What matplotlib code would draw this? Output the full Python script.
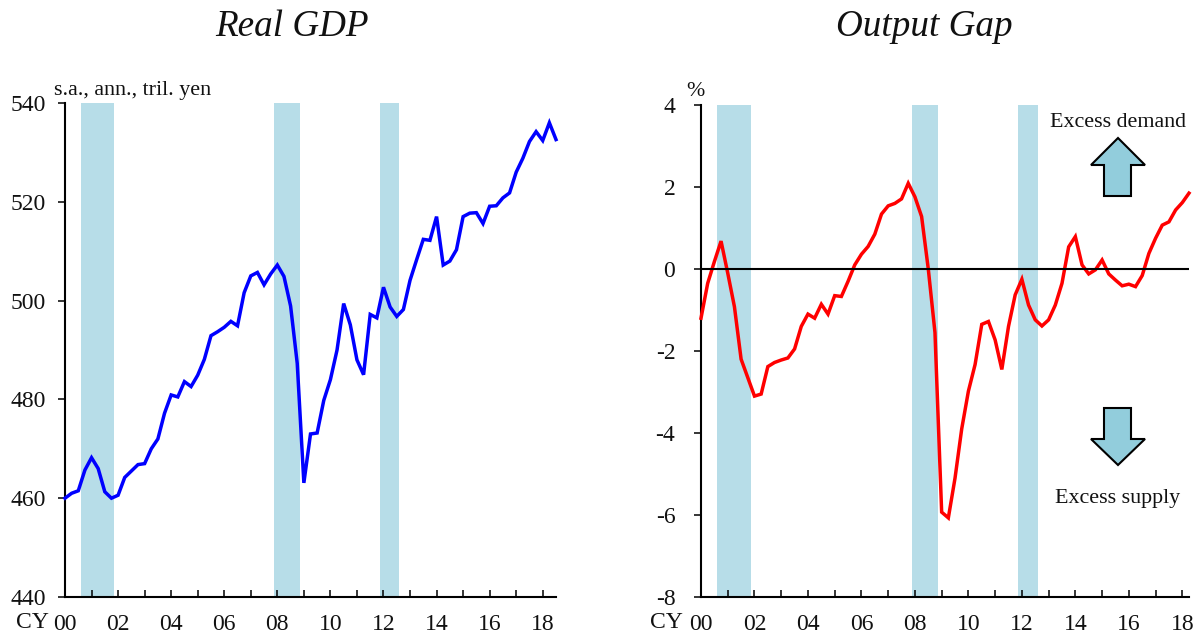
import matplotlib
matplotlib.use('Agg')
import matplotlib.pyplot as plt
from matplotlib.patches import Polygon
import numpy as np

plt.rcParams['font.family'] = ['Liberation Serif', 'DejaVu Serif']

# quarterly, starting 2000 Q1
real_gdp = [460.0, 461.0, 461.5, 465.7, 468.2, 466.0, 461.3, 460.0, 460.6, 464.2,
            465.5, 466.8, 467.0, 470.0, 472.0, 477.2, 480.9, 480.5, 483.6, 482.6,
            484.9, 488.1, 492.9, 493.7, 494.6, 495.8, 494.9, 501.6, 505.0, 505.7,
            503.2, 505.4, 507.2, 504.9, 498.9, 487.3, 463.1, 473.0, 473.2, 479.8,
            484.0, 490.0, 499.4, 495.1, 488.0, 485.0, 497.2, 496.5, 502.7, 498.7,
            496.8, 498.2, 504.1, 508.3, 512.4, 512.2, 517.0, 507.2, 508.0, 510.3,
            517.0, 517.7, 517.8, 515.6, 519.1, 519.2, 520.8, 521.8, 526.0, 528.8,
            532.2, 534.2, 532.4, 536.0, 532.6]
output_gap = [-1.2, -0.35, 0.18, 0.68, -0.1, -0.92, -2.2, -2.65, -3.1, -3.05,
              -2.38, -2.28, -2.22, -2.17, -1.95, -1.4, -1.1, -1.2, -0.86, -1.1,
              -0.65, -0.67, -0.3, 0.1, 0.36, 0.55, 0.85, 1.34, 1.54, 1.6,
              1.71, 2.09, 1.76, 1.28, 0.0, -1.55, -5.93, -6.07, -5.1, -3.9,
              -2.98, -2.33, -1.35, -1.28, -1.73, -2.45, -1.4, -0.63, -0.25, -0.88,
              -1.24, -1.39, -1.24, -0.88, -0.35, 0.54, 0.79, 0.1, -0.12, -0.02,
              0.22, -0.12, -0.27, -0.41, -0.37, -0.43, -0.16, 0.38, 0.75, 1.07,
              1.15, 1.44, 1.62, 1.85]

# recession bands, in quarters from 2000 Q1
recessions = [(2.4, 7.45), (31.5, 35.45), (47.4, 50.4)]

year_ticks = np.arange(0, 73, 4)
year_labels = ['00', '', '02', '', '04', '', '06', '', '08', '', '10', '', '12', '', '14', '', '16', '', '18']
gdp_ticks = [440, 460, 480, 500, 520, 540]
gap_ticks = [-8, -6, -4, -2, 0, 2, 4]

W, H = 1200, 637
BAND = '#B7DDE8'
ARROW = '#92CDDC'

fig = plt.figure(figsize=(12, 6.37), dpi=100)


def panel(left, right, top, bottom):
    return fig.add_axes([left / W, 1 - bottom / H, (right - left) / W, (bottom - top) / H])


def setup(ax, series, color, xmax, ylim, yticks, ypad):
    for start, end in recessions:
        ax.axvspan(start, end, color=BAND, lw=0, zorder=1)
    ax.plot(np.arange(len(series)), series, color=color, lw=2.5, zorder=3,
            clip_on=False, solid_joinstyle='miter')
    ax.set_xlim(0, xmax)
    ax.set_ylim(*ylim)
    ax.set_yticks(yticks)
    ax.set_yticklabels([str(t) for t in yticks])
    ax.set_xticks(year_ticks)
    ax.set_xticklabels(year_labels)
    ax.spines['top'].set_visible(False)
    ax.spines['right'].set_visible(False)
    ax.spines['left'].set_linewidth(1.5)
    ax.spines['bottom'].set_linewidth(1.5)
    ax.tick_params(axis='y', direction='out', length=5, width=1.1, labelsize=17, pad=ypad)
    ax.tick_params(axis='x', direction='in', length=5, width=1.1, labelsize=17, pad=12)
    for lab in ax.get_xticklabels() + ax.get_yticklabels():
        lab.set_color('#111111')


def px_text(x, y, s, size=15.8, ha='center', **kw):
    fig.text(x / W, 1 - y / H, s, fontsize=size, ha=ha, va='center', color='#111111', **kw)


def arrow(points):
    pts = [(x / W, 1 - y / H) for x, y in points]
    fig.add_artist(Polygon(pts, closed=True, facecolor=ARROW, edgecolor='black', lw=1.5,
                           joinstyle='miter', transform=fig.transFigure))


ax1 = panel(65, 556, 103, 597)
setup(ax1, real_gdp, '#0000FF', 74, (440, 540), gdp_ticks, 8.5)

ax2 = panel(701, 1189, 105, 597)
setup(ax2, output_gap, '#FF0000', 73, (-8, 4), gap_ticks, 13.5)
ax2.axhline(0, color='black', lw=1.5, zorder=4)

px_text(292, 27, 'Real GDP', size=26.7, style='italic')
px_text(924.5, 27, 'Output Gap', size=26.7, style='italic')
px_text(54, 90, 's.a., ann., tril. yen', ha='left')
px_text(695, 91, '%')
px_text(32.5, 622.5, 'CY', size=17)
px_text(666.5, 622.5, 'CY', size=17)
px_text(1118, 122.5, 'Excess demand')
px_text(1118, 498, 'Excess supply')

arrow([(1118, 138), (1145, 165), (1131, 165), (1131, 196), (1104, 196), (1104, 165), (1091, 165)])
arrow([(1104, 408), (1131, 408), (1131, 439), (1145, 439), (1118, 465), (1091, 439), (1104, 439)])

fig.savefig('out.png', dpi=100, facecolor='white')
